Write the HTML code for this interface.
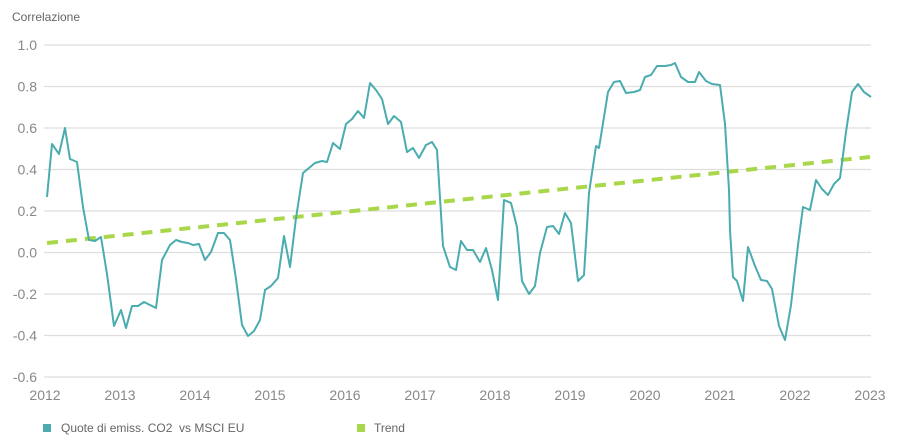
<!DOCTYPE html>
<html><head><meta charset="utf-8"><style>
body{margin:0;background:#fff;}
svg{display:block;font-family:"Liberation Sans",sans-serif;}
</style></head><body>
<svg width="913" height="447" viewBox="0 0 913 447" xmlns="http://www.w3.org/2000/svg">
<text x="12" y="21" font-size="12" fill="#666">Correlazione</text>
<g stroke="#dedede" stroke-width="1.2">
<line x1="44" x2="871" y1="45" y2="45"/><line x1="44" x2="871" y1="86.5" y2="86.5"/>
<line x1="44" x2="871" y1="128" y2="128"/><line x1="44" x2="871" y1="169.5" y2="169.5"/>
<line x1="44" x2="871" y1="211" y2="211"/><line x1="44" x2="871" y1="252.5" y2="252.5"/>
<line x1="44" x2="871" y1="294" y2="294"/><line x1="44" x2="871" y1="335.5" y2="335.5"/>
<line x1="44" x2="871" y1="377" y2="377"/>
</g>
<g font-size="14" fill="#888" text-anchor="end">
<text x="37" y="50">1.0</text><text x="37" y="91.5">0.8</text><text x="37" y="133">0.6</text>
<text x="37" y="174.5">0.4</text><text x="37" y="216">0.2</text><text x="37" y="257.5">0.0</text>
<text x="37" y="299">-0.2</text><text x="37" y="340.5">-0.4</text><text x="37" y="382">-0.6</text>
</g>
<g font-size="14" fill="#888" text-anchor="middle">
<text x="45" y="400">2012</text><text x="120" y="400">2013</text><text x="195" y="400">2014</text>
<text x="270" y="400">2015</text><text x="345" y="400">2016</text><text x="420" y="400">2017</text>
<text x="495" y="400">2018</text><text x="570" y="400">2019</text><text x="645" y="400">2020</text>
<text x="720" y="400">2021</text><text x="795" y="400">2022</text><text x="870" y="400">2023</text>
</g>
<line x1="47" y1="243" x2="870" y2="157" stroke="#a8d84a" stroke-width="4" stroke-dasharray="11,8"/>
<polyline fill="none" stroke="#4aacaf" stroke-width="2" stroke-linejoin="round" points="47,197 52,144 59,154 65,128 70,159 77,162 83,207 89,240 95,241 101,237 107,274 114,326 121,310 126,328 132,306 138,306 144,302 150,305 156,308 162,260 170,245 176,240 182,242 188,243 193,245 199,244 205,260 211,252 218,233 224,233 230,240 236,279 242,325 248,336 254,331 260,320 265,290 271,286 278,278 284,236 290,267 296,218 303,173 309,168 315,163 322,161 327,162 333,143 340,149 346,124 352,119 358,111 364,118 370,83 376,90 382,99 388,124 394,116 401,122 407,152 413,148 419,158 426,145 432,142 437,150 443,246 450,267 456,270 461,241 467,250 473,250 480,262 486,248 492,270 498,300 504,200 511,203 517,227 522,281 529,294 535,286 540,253 547,227 553,226 559,234 565,213 571,223 578,281 584,275 589,193 596,146 599,148 608,92 614,82 620,81 626,93 634,92 640,90 645,77 651,75 657,66 665,66 671,65 675,63 681,77 688,82 695,82 699,72 706,81 712,84 720,85 725,124 729,190 730,230 733,277 737,281 743,301 748,247 755,266 761,280 767,281 772,289 779,326 785,340 791,305 798,245 803,207 810,210 816,180 822,189 828,195 834,184 840,178 846,132 852,92 858,84 864,92 871,97"/>
<rect x="43" y="424" width="8" height="8" fill="#4aacaf"/>
<text x="61" y="432" font-size="12" fill="#666" xml:space="preserve">Quote di emiss. CO2  vs MSCI EU</text>
<rect x="357" y="424" width="8" height="8" fill="#a8d84a"/>
<text x="374" y="432" font-size="12" fill="#666">Trend</text>
</svg>
</body></html>
